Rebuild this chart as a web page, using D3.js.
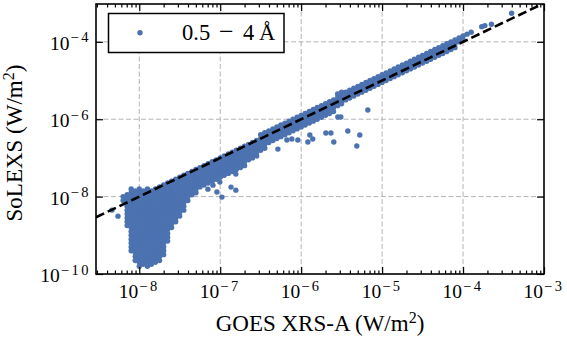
<!DOCTYPE html>
<html><head><meta charset="utf-8">
<script src="https://cdn.jsdelivr.net/npm/d3@7/dist/d3.min.js"></script>
<style>html,body{margin:0;padding:0;background:#fff;}svg{display:block;font-family:"Liberation Serif","Times New Roman",serif;}</style>
</head><body><svg id="chart" width="567" height="338"></svg>
<script>
// ---- data ----
const xDomain = [2.92e-9, 1e-3];
const yDomain = [1e-10, 9.5e-4];
const xMajorTicks = [1e-8, 1e-7, 1e-6, 1e-5, 1e-4, 1e-3];
const xTickExponents = ["\u22128", "\u22127", "\u22126", "\u22125", "\u22124", "\u22123"];
const yMajorTicks = [1e-10, 1e-8, 1e-6, 1e-4];
const yTickExponents = ["\u221210", "\u22128", "\u22126", "\u22124"];
const legendLabel = ["0.5", "\u2212", "4", "\u00C5"];

// GOES XRS-A flux of each column of dense points
const goesFlux = [6.31e-9, 7.08e-9, 7.94e-9, 8.91e-9, 1e-8, 1.12e-8, 1.26e-8, 1.41e-8, 1.58e-8, 1.78e-8,
  2e-8, 2.24e-8, 2.51e-8, 2.82e-8, 3.16e-8, 3.55e-8, 3.98e-8, 4.47e-8, 5.01e-8, 5.62e-8,
  6.31e-8, 7.08e-8, 7.94e-8, 8.91e-8, 1e-7, 1.12e-7, 1.26e-7, 1.41e-7, 1.58e-7, 1.78e-7,
  2e-7, 2.24e-7, 2.51e-7, 2.82e-7, 3.16e-7, 3.55e-7, 3.98e-7, 4.47e-7, 5.01e-7, 5.62e-7,
  6.31e-7, 7.08e-7, 7.94e-7, 8.91e-7, 1e-6, 1.12e-6, 1.26e-6, 1.41e-6, 1.58e-6, 1.78e-6,
  2e-6, 2.24e-6, 2.51e-6, 2.82e-6, 3.16e-6, 3.55e-6, 3.98e-6, 4.47e-6, 5.01e-6, 5.62e-6,
  6.31e-6, 7.08e-6, 7.94e-6, 8.91e-6, 1e-5, 1.12e-5, 1.26e-5, 1.41e-5, 1.58e-5, 1.78e-5,
  2e-5, 2.24e-5, 2.51e-5, 2.82e-5, 3.16e-5, 3.55e-5, 3.98e-5, 4.47e-5, 5.01e-5, 5.62e-5,
  6.31e-5, 7.08e-5, 7.94e-5, 8.91e-5, 1e-4, 1.12e-4, 1.26e-4];

// SoLEXS flux of the points in each of those columns
const solexsFlux = [
  [1e-8, 7.94e-9],
  [1.12e-8, 8.91e-9, 7.08e-9, 5.62e-9, 4.47e-9, 3.55e-9, 2.82e-9, 2.24e-9, 1.78e-9],
  [1.58e-8, 1.26e-8, 1e-8, 7.94e-9, 6.31e-9, 5.01e-9, 3.98e-9, 3.16e-9, 2.51e-9, 2e-9, 1.58e-9, 1.26e-9, 1e-9, 7.94e-10, 6.31e-10, 5.01e-10, 3.98e-10],
  [1.41e-8, 1.12e-8, 8.91e-9, 7.08e-9, 5.62e-9, 4.47e-9, 3.55e-9, 2.82e-9, 2.24e-9, 1.78e-9, 1.41e-9, 1.12e-9, 8.91e-10, 7.08e-10, 5.62e-10, 4.47e-10, 3.55e-10, 2.82e-10, 2.24e-10],
  [1.58e-8, 1.26e-8, 1e-8, 7.94e-9, 6.31e-9, 5.01e-9, 3.98e-9, 3.16e-9, 2.51e-9, 2e-9, 1.58e-9, 1.26e-9, 1e-9, 7.94e-10, 6.31e-10, 5.01e-10, 3.98e-10, 3.16e-10, 2.51e-10, 2e-10, 1.58e-10],
  [1.41e-8, 1.12e-8, 8.91e-9, 7.08e-9, 5.62e-9, 4.47e-9, 3.55e-9, 2.82e-9, 2.24e-9, 1.78e-9, 1.41e-9, 1.12e-9, 8.91e-10, 7.08e-10, 5.62e-10, 4.47e-10, 3.55e-10, 2.82e-10, 2.24e-10, 1.78e-10],
  [1.58e-8, 1.26e-8, 1e-8, 7.94e-9, 6.31e-9, 5.01e-9, 3.98e-9, 3.16e-9, 2.51e-9, 2e-9, 1.58e-9, 1.26e-9, 1e-9, 7.94e-10, 6.31e-10, 5.01e-10, 3.98e-10, 3.16e-10, 2.51e-10, 2e-10, 1.58e-10],
  [1.41e-8, 1.12e-8, 8.91e-9, 7.08e-9, 5.62e-9, 4.47e-9, 3.55e-9, 2.82e-9, 2.24e-9, 1.78e-9, 1.41e-9, 1.12e-9, 8.91e-10, 7.08e-10, 5.62e-10, 4.47e-10, 3.55e-10, 2.82e-10, 2.24e-10, 1.78e-10],
  [1.58e-8, 1.26e-8, 1e-8, 7.94e-9, 6.31e-9, 5.01e-9, 3.98e-9, 3.16e-9, 2.51e-9, 2e-9, 1.58e-9, 1.26e-9, 1e-9, 7.94e-10, 6.31e-10, 5.01e-10, 3.98e-10, 3.16e-10, 2.51e-10, 2e-10],
  [1.78e-8, 1.41e-8, 1.12e-8, 8.91e-9, 7.08e-9, 5.62e-9, 4.47e-9, 3.55e-9, 2.82e-9, 2.24e-9, 1.78e-9, 1.41e-9, 1.12e-9, 8.91e-10, 7.08e-10, 5.62e-10, 4.47e-10, 3.55e-10, 2.82e-10, 2.24e-10],
  [2e-8, 1.58e-8, 1.26e-8, 1e-8, 7.94e-9, 6.31e-9, 5.01e-9, 3.98e-9, 3.16e-9, 2.51e-9, 2e-9, 1.58e-9, 1.26e-9, 1e-9, 7.94e-10, 6.31e-10, 5.01e-10, 3.98e-10, 3.16e-10],
  [2.24e-8, 1.78e-8, 1.41e-8, 1.12e-8, 8.91e-9, 7.08e-9, 5.62e-9, 4.47e-9, 3.55e-9, 2.82e-9, 2.24e-9, 1.78e-9, 1.41e-9, 1.12e-9, 8.91e-10, 7.08e-10],
  [2.51e-8, 2e-8, 1.58e-8, 1.26e-8, 1e-8, 7.94e-9, 6.31e-9, 5.01e-9, 3.98e-9, 3.16e-9, 2.51e-9, 2e-9, 1.58e-9],
  [2.82e-8, 2.24e-8, 1.78e-8, 1.41e-8, 1.12e-8, 8.91e-9, 7.08e-9, 5.62e-9, 4.47e-9, 3.55e-9, 2.82e-9, 2.24e-9],
  [3.16e-8, 2.51e-8, 2e-8, 1.58e-8, 1.26e-8, 1e-8, 7.94e-9, 6.31e-9, 5.01e-9, 3.98e-9, 3.16e-9],
  [3.55e-8, 2.82e-8, 2.24e-8, 1.78e-8, 1.41e-8, 1.12e-8, 8.91e-9, 7.08e-9, 5.62e-9, 4.47e-9],
  [3.98e-8, 3.16e-8, 2.51e-8, 2e-8, 1.58e-8, 1.26e-8, 1e-8, 7.94e-9],
  [4.47e-8, 3.55e-8, 2.82e-8, 2.24e-8, 1.78e-8, 1.41e-8, 1.12e-8],
  [5.01e-8, 3.98e-8, 3.16e-8, 2.51e-8, 2e-8, 1.58e-8, 1.26e-8],
  [5.62e-8, 4.47e-8, 3.55e-8, 2.82e-8, 2.24e-8, 1.78e-8],
  [6.31e-8, 5.01e-8, 3.98e-8, 3.16e-8, 2.51e-8, 2e-8],
  [7.08e-8, 5.62e-8, 4.47e-8, 3.55e-8, 2.82e-8, 2.24e-8],
  [7.94e-8, 6.31e-8, 5.01e-8, 3.98e-8, 3.16e-8, 2.51e-8],
  [8.91e-8, 7.08e-8, 5.62e-8, 4.47e-8, 3.55e-8, 2.82e-8],
  [1e-7, 7.94e-8, 6.31e-8, 5.01e-8, 3.98e-8, 3.16e-8],
  [1.12e-7, 8.91e-8, 7.08e-8, 5.62e-8, 4.47e-8, 3.55e-8],
  [1.26e-7, 1e-7, 7.94e-8, 6.31e-8, 5.01e-8, 3.98e-8],
  [1.41e-7, 1.12e-7, 8.91e-8, 7.08e-8, 5.62e-8, 4.47e-8],
  [1.58e-7, 1.26e-7, 1e-7, 7.94e-8, 6.31e-8, 5.01e-8],
  [1.78e-7, 1.41e-7, 1.12e-7, 8.91e-8, 7.08e-8, 5.62e-8],
  [2e-7, 1.58e-7, 1.26e-7, 1e-7, 7.94e-8, 6.31e-8],
  [2.24e-7, 1.78e-7, 1.41e-7, 1.12e-7, 8.91e-8],
  [2.51e-7, 2e-7, 1.58e-7, 1.26e-7, 1e-7],
  [2.82e-7, 2.24e-7, 1.78e-7, 1.41e-7, 1.12e-7],
  [3.98e-7, 3.16e-7, 2.51e-7, 2e-7, 1.58e-7],
  [4.47e-7, 3.55e-7, 2.82e-7, 2.24e-7, 1.78e-7],
  [5.01e-7, 3.98e-7, 3.16e-7, 2.51e-7],
  [5.62e-7, 4.47e-7, 3.55e-7, 2.82e-7],
  [6.31e-7, 5.01e-7, 3.98e-7, 3.16e-7],
  [7.08e-7, 5.62e-7, 4.47e-7, 3.55e-7],
  [7.94e-7, 6.31e-7, 5.01e-7, 3.98e-7],
  [8.91e-7, 7.08e-7, 5.62e-7, 4.47e-7],
  [1e-6, 7.94e-7, 6.31e-7, 5.01e-7],
  [1.12e-6, 8.91e-7, 7.08e-7, 5.62e-7],
  [1.26e-6, 1e-6, 7.94e-7, 6.31e-7],
  [1.41e-6, 1.12e-6, 8.91e-7, 7.08e-7],
  [1.58e-6, 1.26e-6, 1e-6, 7.94e-7],
  [1.78e-6, 1.41e-6, 1.12e-6, 8.91e-7],
  [2e-6, 1.58e-6, 1.26e-6, 1e-6],
  [2.24e-6, 1.78e-6, 1.41e-6, 1.12e-6],
  [2.51e-6, 2e-6, 1.58e-6, 1.26e-6],
  [2.82e-6, 2.24e-6, 1.78e-6, 1.41e-6],
  [3.16e-6, 2.51e-6, 2e-6, 1.58e-6],
  [4.47e-6, 3.55e-6, 2.82e-6, 2.24e-6],
  [5.01e-6, 3.98e-6, 3.16e-6, 2.51e-6],
  [5.01e-6, 3.98e-6, 3.16e-6],
  [5.62e-6, 4.47e-6, 3.55e-6],
  [6.31e-6, 5.01e-6, 3.98e-6],
  [7.08e-6, 5.62e-6, 4.47e-6],
  [7.94e-6, 6.31e-6, 5.01e-6],
  [8.91e-6, 7.08e-6, 5.62e-6],
  [1e-5, 7.94e-6, 6.31e-6],
  [1.12e-5, 8.91e-6, 7.08e-6],
  [1.26e-5, 1e-5, 7.94e-6],
  [1.41e-5, 1.12e-5, 8.91e-6],
  [1.58e-5, 1.26e-5, 1e-5],
  [1.78e-5, 1.41e-5, 1.12e-5],
  [2e-5, 1.58e-5, 1.26e-5],
  [2.24e-5, 1.78e-5, 1.41e-5],
  [2.51e-5, 2e-5, 1.58e-5],
  [2.82e-5, 2.24e-5, 1.78e-5],
  [3.16e-5, 2.51e-5, 2e-5],
  [3.55e-5, 2.82e-5, 2.24e-5],
  [3.98e-5, 3.16e-5, 2.51e-5],
  [4.47e-5, 3.55e-5, 2.82e-5],
  [5.01e-5, 3.98e-5, 3.16e-5],
  [5.62e-5, 4.47e-5, 3.55e-5],
  [6.31e-5, 5.01e-5, 3.98e-5],
  [7.08e-5, 5.62e-5, 4.47e-5],
  [7.94e-5, 6.31e-5, 5.01e-5],
  [8.91e-5, 7.08e-5, 5.62e-5],
  [1e-4, 7.94e-5, 6.31e-5],
  [1.12e-4, 8.91e-5, 7.08e-5],
  [1.26e-4, 1e-4],
  [1.41e-4, 1.12e-4],
  [1.58e-4],
  [1.78e-4]
];

// isolated points away from the main cloud
const goesScatter = [4.6e-9, 5.46e-9, 7.05e-8, 8.13e-8, 9.1e-8, 9.9e-8, 1.05e-7, 1.36e-7, 1.56e-7, 1.56e-7,
  1.7e-7, 5.16e-7, 6.66e-7, 7.67e-7, 9.1e-7, 1.28e-6, 1.39e-6, 1.21e-6, 2.02e-6, 2.33e-6,
  2.53e-6, 2.84e-6, 3.09e-6, 3.77e-6, 5.3e-6, 4.87e-6, 6.66e-6, 1.7e-4, 1.86e-4, 2.24e-4, 3.98e-4];
const solexsScatter = [4.48e-9, 3.13e-9, 1.56e-8, 1.98e-8, 1.31e-8, 2.37e-8, 9.7e-9, 1.76e-8, 1.47e-8, 3.82e-8,
  7.36e-8, 1.69e-7, 2.9e-7, 3.07e-7, 2.9e-7, 3.9e-7, 3.07e-7, 2.57e-7, 4.4e-7, 4.4e-7,
  2.57e-7, 1.14e-6, 1.14e-6, 4.95e-7, 3.9e-7, 2.03e-7, 1.73e-6, 2.47e-4, 2.63e-4, 2.85e-4, 5.5e-4];

// one-to-one reference line
const refGoes = [2.92e-9, 1e-3];
const refSolexs = [2.92e-9, 1e-3];

// ---- drawing ----
const blue = "#4c72b0";
const svg = d3.select("#chart");
const L = 96, R = 544, T = 4, B = 274;
const x = d3.scaleLog().domain(xDomain).range([L, R]);
const y = d3.scaleLog().domain(yDomain).range([B, T]);

svg.append("defs").append("clipPath").attr("id", "clip")
  .append("rect").attr("x", L).attr("y", T).attr("width", R - L).attr("height", B - T);

// grid
const grid = svg.append("g").attr("stroke", "#b4b4b4").attr("stroke-width", 1).attr("stroke-dasharray", "5,2.5");
grid.selectAll("line.gx").data(xMajorTicks.filter(v => x(v) < R - 1)).join("line")
  .attr("x1", d => x(d)).attr("x2", d => x(d)).attr("y1", T).attr("y2", B);
grid.selectAll("line.gy").data(yMajorTicks.filter(v => y(v) < B - 1)).join("line")
  .attr("x1", L).attr("x2", R).attr("y1", d => y(d)).attr("y2", d => y(d));

// points
const points = [];
goesFlux.forEach((gx, i) => solexsFlux[i].forEach(sy => points.push([gx, sy])));
goesScatter.forEach((gx, i) => points.push([gx, solexsScatter[i]]));
svg.append("g").attr("clip-path", "url(#clip)")
  .selectAll("circle").data(points).join("circle")
  .attr("cx", d => x(d[0])).attr("cy", d => y(d[1])).attr("r", 2.7).attr("fill", blue);

// reference line
svg.append("path").attr("clip-path", "url(#clip)")
  .datum(refGoes.map((g, i) => [g, refSolexs[i]]))
  .attr("d", d3.line().x(d => x(d[0])).y(d => y(d[1])))
  .attr("fill", "none").attr("stroke", "#000").attr("stroke-width", 2.6).attr("stroke-dasharray", "9,4");

// ticks
const xMinor = x.ticks().filter(v => Math.abs(Math.log10(v) - Math.round(Math.log10(v))) > 1e-6);
function styleAxis(g) { g.select(".domain").remove(); g.selectAll("line").attr("stroke", "#000").attr("stroke-width", 1.2); }
svg.append("g").attr("transform", `translate(0,${B})`).call(d3.axisBottom(x).tickValues(xMinor).tickSize(-3.5).tickFormat("")).call(styleAxis);
svg.append("g").attr("transform", `translate(0,${B})`).call(d3.axisBottom(x).tickValues(xMajorTicks).tickSize(-7).tickFormat("")).call(styleAxis);
svg.append("g").attr("transform", `translate(0,${T})`).call(d3.axisTop(x).tickValues(xMinor).tickSize(-3.5).tickFormat("")).call(styleAxis);
svg.append("g").attr("transform", `translate(0,${T})`).call(d3.axisTop(x).tickValues(xMajorTicks).tickSize(-7).tickFormat("")).call(styleAxis);
svg.append("g").attr("transform", `translate(${L},0)`).call(d3.axisLeft(y).tickValues(yMajorTicks).tickSize(-7).tickFormat("")).call(styleAxis);
svg.append("g").attr("transform", `translate(${R},0)`).call(d3.axisRight(y).tickValues(yMajorTicks).tickSize(-7).tickFormat("")).call(styleAxis);

// frame
svg.append("rect").attr("x", L).attr("y", T).attr("width", R - L).attr("height", B - T)
  .attr("fill", "none").attr("stroke", "#000").attr("stroke-width", 1.6);

// tick labels
function powerLabel(sel, exp) {
  sel.append("tspan").text("10");
  sel.append("tspan").attr("dy", -7.5).attr("dx", 1).attr("font-size", 14.5).attr("letter-spacing", 2.5).text(exp);
}
xMajorTicks.forEach((v, i) => {
  svg.append("text").attr("x", x(v)).attr("y", 298).attr("text-anchor", "middle").attr("font-size", 19.5)
    .call(powerLabel, xTickExponents[i]);
});
yMajorTicks.forEach((v, i) => {
  svg.append("text").attr("x", 91).attr("y", y(v) + 8).attr("text-anchor", "end").attr("font-size", 19.5)
    .call(powerLabel, yTickExponents[i]);
});

// axis titles
const xt = svg.append("text").attr("x", (L + R) / 2).attr("y", 331).attr("text-anchor", "middle").attr("font-size", 23);
xt.append("tspan").text("GOES XRS-A (W/m");
xt.append("tspan").attr("dy", -8).attr("font-size", 16).text("2");
xt.append("tspan").attr("dy", 8).text(")");
const yt = svg.append("text").attr("transform", `translate(22,143) rotate(-90)`).attr("text-anchor", "middle").attr("font-size", 23);
yt.append("tspan").text("SoLEXS (W/m");
yt.append("tspan").attr("dy", -8).attr("font-size", 16).text("2");
yt.append("tspan").attr("dy", 8).text(")");

// legend
const lg = svg.append("g");
lg.append("rect").attr("x", 108.5).attr("y", 13.5).attr("width", 175.5).attr("height", 39)
  .attr("fill", "#fff").attr("stroke", "#000").attr("stroke-width", 1.5);
lg.append("circle").attr("cx", 140).attr("cy", 32.7).attr("r", 2.7).attr("fill", blue);
const lt = lg.append("text").attr("y", 39.5).attr("font-size", 22.5);
lt.append("tspan").attr("x", 182).text(legendLabel[0]);
lt.append("tspan").attr("x", 219).attr("font-size", 26).text(legendLabel[1]);
lt.append("tspan").attr("x", 243).text(legendLabel[2]);
lt.append("tspan").attr("x", 259).text(legendLabel[3]);
</script></body></html>
